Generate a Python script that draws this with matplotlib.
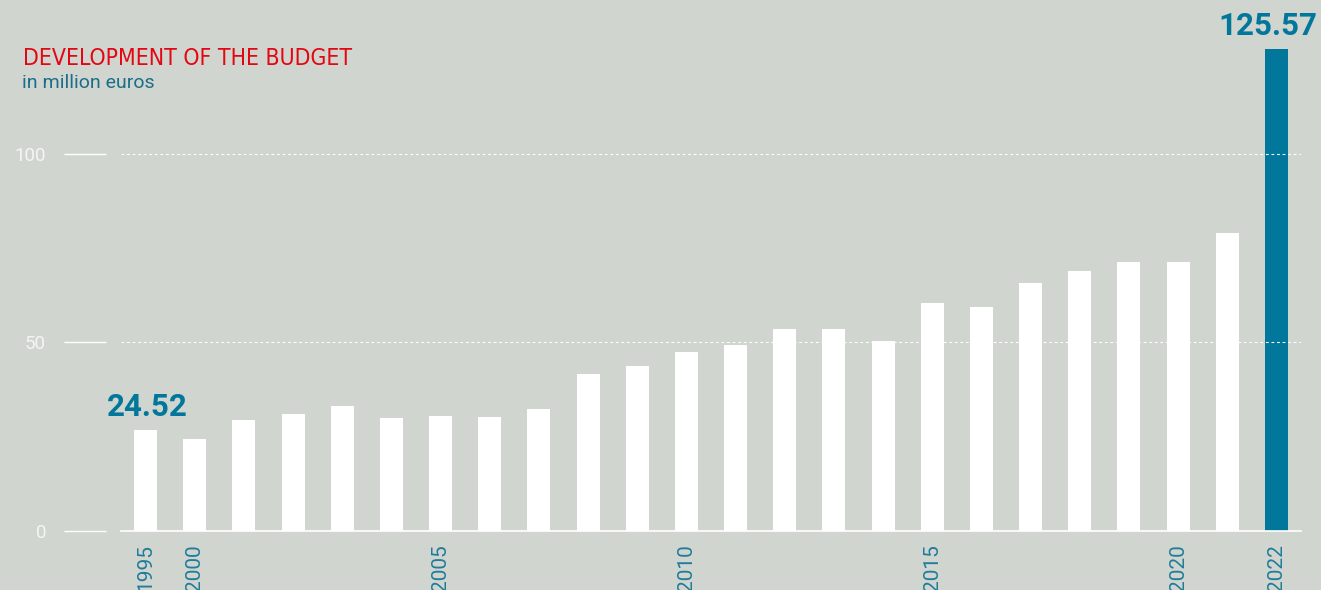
import matplotlib
matplotlib.use("Agg")
import matplotlib.pyplot as plt
import numpy as np

# budget in million euros
years = ["1995", "2000", "2001", "2002", "2003", "2004", "2005", "2006", "2007",
         "2008", "2009", "2010", "2011", "2012", "2013", "2014", "2015", "2016",
         "2017", "2018", "2019", "2020", "2021", "2022"]
budget = [26.7, 24.3, 29.3, 30.9, 33.0, 29.9, 30.4, 30.1, 32.2,
          41.5, 43.6, 47.4, 49.2, 53.4, 53.4, 50.3, 60.3, 59.3,
          65.6, 69.0, 71.2, 71.2, 78.9, 127.8]
labelled_years = ["1995", "2000", "2005", "2010", "2015", "2020", "2022"]
y_ticks = [0, 50, 100]

BG = "#d0d5cf"
TEAL = "#00779b"
RED = "#e30613"
LABEL_TEAL = "#1f7c9a"

plt.rcParams["font.family"] = ["Roboto", "DejaVu Sans"]

fig = plt.figure(figsize=(13.21, 5.90), dpi=100, facecolor=BG)
ax = fig.add_axes([121 / 1321, 1 - 531 / 590, 1180 / 1321, 509.5 / 590])
ax.set_facecolor(BG)

x = np.arange(len(years))
colors = ["white"] * (len(years) - 1) + [TEAL]
ax.bar(x, budget, width=0.47, color=colors, zorder=2)

ax.set_xlim(-0.5, len(years) - 0.5)
ax.set_ylim(0, 135)

# dashed guides at 50 and 100, drawn over the bars
for v in y_ticks[1:]:
    ax.axhline(v, color="white", lw=0.8, dashes=(2.5, 2.5), zorder=3)

for s in ["top", "right", "left"]:
    ax.spines[s].set_visible(False)
ax.spines["bottom"].set_color("white")
ax.spines["bottom"].set_linewidth(1.2)
ax.spines["bottom"].set_zorder(4)

# short solid tick lines sitting left of the plot with a small gap
ax.spines["left"].set_position(("outward", 11))
ax.set_yticks(y_ticks)
ax.set_yticklabels([str(v) for v in y_ticks])
ax.tick_params(axis="y", length=30, width=1.0, color="white", pad=13,
               labelsize=13.5, labelcolor="#f4f6f3")

tick_pos = [years.index(y) for y in labelled_years]
ax.set_xticks(tick_pos)
ax.set_xticklabels(labelled_years, rotation=90, va="top", ha="center")
ax.tick_params(axis="x", length=0, pad=9.5, labelsize=15, labelcolor=LABEL_TEAL)

# value call-outs
ax.text(0.03, 30.6, "24.52", ha="center", va="baseline", fontsize=22.5,
        fontweight="bold", color=TEAL)
ax.text(len(years) - 1 + 41 / 49.15, 131.5, "125.57", ha="right", va="baseline",
        fontsize=22.5, fontweight="bold", color=TEAL, clip_on=False)

fig.text(23 / 1321, 1 - 65 / 590, "DEVELOPMENT OF THE BUDGET", fontsize=16.5,
         color=RED, family=["DejaVu Sans"], fontstretch="condensed", va="baseline")
fig.text(22 / 1321, 1 - 88 / 590, "in million euros", fontsize=14,
         color="#1b6d88", va="baseline")

fig.savefig("out.png", dpi=100, facecolor=BG)
